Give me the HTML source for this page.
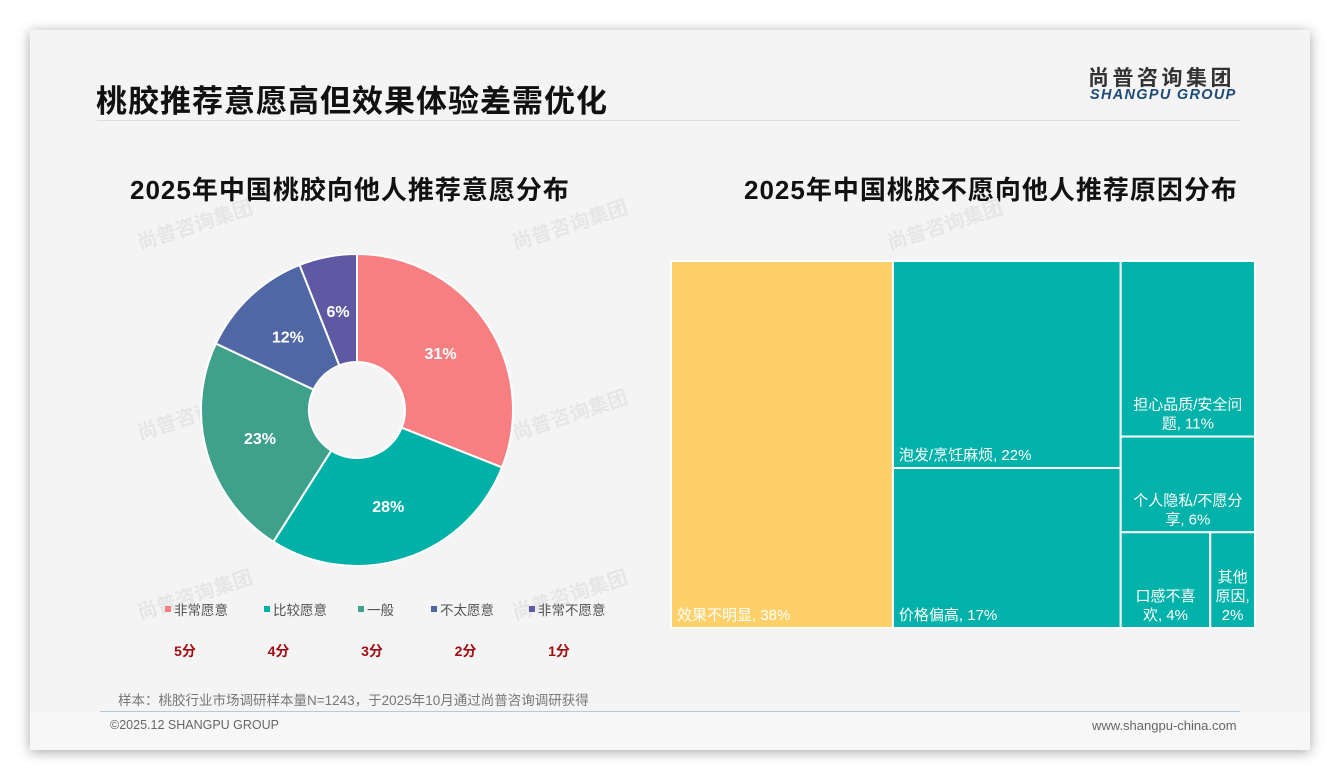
<!DOCTYPE html>
<html><head><meta charset="utf-8">
<style>
body{margin:0;width:1340px;height:780px;background:#fff;font-family:"Liberation Sans","Noto Sans CJK SC",sans-serif;overflow:hidden;position:relative}
#card{position:absolute;left:30px;top:30px;width:1280px;height:720px;background:#f4f4f4;box-shadow:0 2px 12px rgba(0,0,0,0.35)}
.abs{position:absolute}
</style></head><body>
<div id="card"></div>
<div class="abs" style="left:96px;top:76px;font-size:31px;font-weight:bold;color:#111;letter-spacing:1px">桃胶推荐意愿高但效果体验差需优化</div>
<div class="abs" style="left:1088px;top:62px;font-size:21px;font-weight:bold;color:#333;letter-spacing:3.5px">尚普咨询集团</div>
<div class="abs" style="left:1090px;top:87px;font-size:14.5px;font-weight:bold;font-style:italic;color:#1e4a7a;letter-spacing:1.3px">SHANGPU GROUP</div>
<div class="abs" style="left:97px;top:120px;width:1143px;height:1px;background:#ddd"></div>
<div class="abs" style="left:130px;top:170px;font-size:26px;font-weight:bold;color:#111;letter-spacing:1px">2025年中国桃胶向他人推荐意愿分布</div>
<div class="abs" style="left:744px;top:170px;font-size:26px;font-weight:bold;color:#111;letter-spacing:1px">2025年中国桃胶不愿向他人推荐原因分布</div>
<svg class="abs" style="left:0;top:0" width="1340" height="780" id="chart"></svg>
<div class="abs" style="left:118px;top:689px;font-size:13.5px;color:#777">样本：桃胶行业市场调研样本量N=1243，于2025年10月通过尚普咨询调研获得</div>
<div class="abs" style="left:100px;top:711px;width:1140px;height:1px;background:#b8c8d8"></div>
<div class="abs" style="left:30px;top:712px;width:1280px;height:38px;background:#f7f7f7"></div>
<div class="abs" style="left:110px;top:718px;font-size:12.5px;color:#666">©2025.12 SHANGPU GROUP</div>
<div class="abs" style="left:1092px;top:718px;font-size:13px;color:#666">www.shangpu-china.com</div>
<script>
const pieLabels=["非常愿意","比较愿意","一般","不太愿意","非常不愿意"];
const pieValues=[31,28,23,12,6];
const scoreLabels=["5分","4分","3分","2分","1分"];
const pieColors=["#f77f82","#00b1a8","#3fa08c","#4f67a4","#5e59a2"];
const tmLabels=["效果不明显","泡发/烹饪麻烦","价格偏高","担心品质/安全问题","个人隐私/不愿分享","口感不喜欢","其他原因"];
const tmValues=[38,22,17,11,6,4,2];
const tmColors=["#fdd069","#00b2a9","#00b2a9","#00b2a9","#00b2a9","#00b2a9","#00b2a9"];
const NS="http://www.w3.org/2000/svg";
const svg=document.getElementById('chart');
function mk(t,a){const e=document.createElementNS(NS,t);for(const k in a)e.setAttribute(k,a[k]);svg.appendChild(e);return e;}
[[140,250],[515,250],[890,250],[140,440],[515,440],[140,620],[515,620],[890,620]].forEach(p=>{
 const g=mk('text',{x:p[0],y:p[1],transform:`rotate(-18 ${p[0]} ${p[1]})`,fill:'#e6e6e6','font-size':20,'font-weight':'bold','font-family':'Liberation Sans, Noto Sans CJK SC, sans-serif'});
 g.textContent='尚普咨询集团';
 
 
});
const cx=357,cy=410,R=156,r=48;
const tot=pieValues.reduce((a,b)=>a+b,0);
let a0=0;
function pt(rad,ang){return [cx+rad*Math.sin(ang),cy-rad*Math.cos(ang)];}
pieValues.forEach((v,i)=>{
 const a1=a0+v/tot*2*Math.PI;
 const [x0,y0]=pt(R,a0),[x1,y1]=pt(R,a1),[x2,y2]=pt(r,a1),[x3,y3]=pt(r,a0);
 const lg=(a1-a0)>Math.PI?1:0;
 const p=mk('path',{d:`M${x0},${y0}A${R},${R} 0 ${lg} 1 ${x1},${y1}L${x2},${y2}A${r},${r} 0 ${lg} 0 ${x3},${y3}Z`,fill:pieColors[i],stroke:'#fff','stroke-width':2});
 
 
 const [lx,ly]=pt(101,(a0+a1)/2);
 const t=mk('text',{x:lx,y:ly+6,'text-anchor':'middle',fill:'#fff','font-size':16,'font-weight':'bold'});
 t.textContent=v+'%';
 
 
 a0=a1;
});
const lx0=[165,264,358,431,529];
pieLabels.forEach((l,i)=>{
 const x=185+i*93.5;
 const s=mk('rect',{x:lx0[i],y:606,width:6,height:6,fill:pieColors[i]});
 
 
 const t=mk('text',{x:lx0[i]+9,y:615,fill:'#555','font-size':13.5});
 t.textContent=l;
 
 
 const sc=mk('text',{x:x,y:656,'text-anchor':'middle',fill:'#a00d12','font-size':14,'font-weight':'bold'});
 sc.textContent=scoreLabels[i];
 
 
});
const X0=671,Y0=261,W=584,H=367,T=tmValues.reduce((a,b)=>a+b,0);
const rects=[];
const w1=W*tmValues[0]/T; rects.push([X0,Y0,w1,H]);
const c2=tmValues[1]+tmValues[2], w2=W*c2/T;
const h21=H*tmValues[1]/c2;
rects.push([X0+w1,Y0,w2,h21]); rects.push([X0+w1,Y0+h21,w2,H-h21]);
const c3=tmValues[3]+tmValues[4]+tmValues[5]+tmValues[6], w3=W-w1-w2, x3=X0+w1+w2;
const h31=H*tmValues[3]/c3, h32=H*tmValues[4]/c3, h33=H-h31-h32;
rects.push([x3,Y0,w3,h31]); rects.push([x3,Y0+h31,w3,h32]);
const w41=w3*tmValues[5]/(tmValues[5]+tmValues[6]);
rects.push([x3,Y0+h31+h32,w41,h33]); rects.push([x3+w41,Y0+h31+h32,w3-w41,h33]);
const lines=[null,null,null,["担心品质/安全问","题, 11%"],["个人隐私/不愿分","享, 6%"],["口感不喜","欢, 4%"],["其他","原因,","2%"]];
rects.forEach((rc,i)=>{
 const e=mk('rect',{x:rc[0],y:rc[1],width:rc[2],height:rc[3],fill:tmColors[i],stroke:'#fff','stroke-width':2});
 
 
 let ls=lines[i]?lines[i].slice():[tmLabels[i]+', '+tmValues[i]+'%'];
 if(lines[i]) ls[ls.length-1]=ls[ls.length-1].replace(/\d+%/,tmValues[i]+'%');
 const centered=!!lines[i];
 ls.forEach((ln,j)=>{
  const ty=rc[1]+rc[3]-8-(ls.length-1-j)*19;
  const t=mk('text',{x:centered?rc[0]+rc[2]/2:rc[0]+6,y:ty,'text-anchor':centered?'middle':'start',fill:'#fff','font-size':15});
  t.textContent=ln;
  
  
 });
});
</script>
</body></html>
